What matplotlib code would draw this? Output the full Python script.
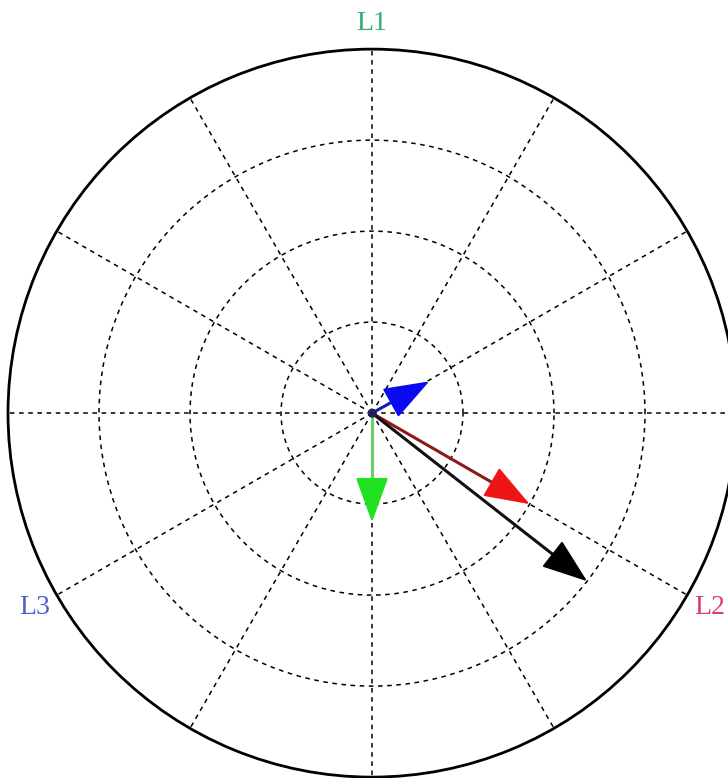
import numpy as np
import matplotlib
matplotlib.use("Agg")
import matplotlib.pyplot as plt

# phasor data (angle in degrees, magnitude relative to outer ring)
names = ["blue", "green", "red", "black"]
angles_deg = [29, -90, -30, -38]
magnitudes = [0.18, 0.30, 0.50, 0.75]
shaft_colors = ["#1a1ab0", "#66d066", "#8b1a1a", "#111111"]
head_colors = ["#0a0af0", "#22e022", "#f01515", "#000000"]

phase_labels = ["L1", "L2", "L3"]
phase_angles = [90, -30, 210]
phase_colors = ["#30b070", "#d8406a", "#5060c8"]

fig = plt.figure(figsize=(7.28, 7.78), dpi=100)
ax = fig.add_axes([0.011, 0.001, 1.0, 0.936], projection="polar")
ax.set_ylim(0, 1.0)
ax.set_thetagrids(np.arange(0, 360, 30), labels=[])
ax.set_rgrids([0.25, 0.5, 0.75], labels=[])
ax.grid(True, color="black", linestyle=(0, (3, 3)), linewidth=1.1)
ax.spines["polar"].set_linewidth(2.0)
ax.spines["polar"].set_color("black")

for ang, mag, sc, hc in zip(angles_deg, magnitudes, shaft_colors, head_colors):
    th = np.deg2rad(ang)
    ax.plot([th, th], [0, mag * 0.9], color=sc, linewidth=2.2, solid_capstyle="butt", zorder=3)
    ax.annotate("", xy=(th, mag), xytext=(th, mag * 0.85),
                arrowprops=dict(arrowstyle="-|>,head_length=29,head_width=10.5",
                                mutation_scale=1, color=hc, linewidth=1.5,
                                shrinkA=0, shrinkB=0), zorder=4)

ax.plot([0], [0], marker="o", color="#202060", markersize=5, zorder=5)

for lab, ang, col in zip(phase_labels, phase_angles, phase_colors):
    ax.text(np.deg2rad(ang), 1.07, lab, color=col, fontsize=20, family="Liberation Serif",
            ha="center", va="center", clip_on=False)

fig.savefig("out.png", dpi=100)
